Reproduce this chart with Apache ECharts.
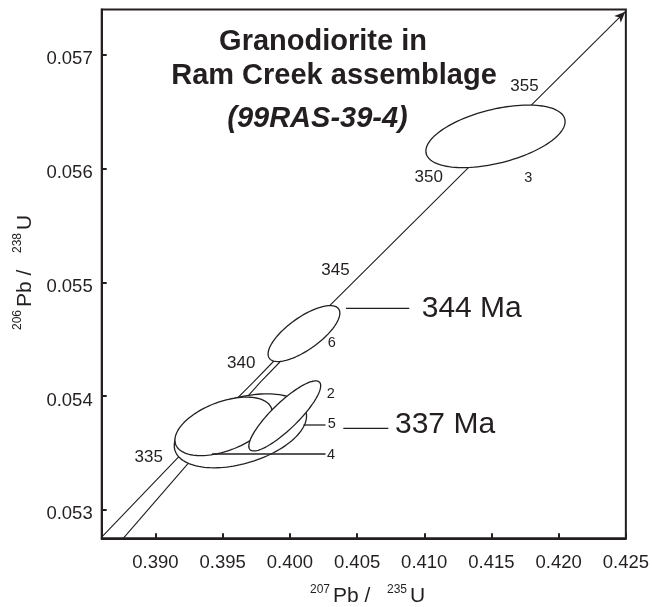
<!DOCTYPE html>
<html><head><meta charset="utf-8">
<script src="https://cdn.jsdelivr.net/npm/echarts@6/dist/echarts.min.js"></script>
<style>html,body{margin:0;padding:0;background:#fff}#c{width:652px;height:607px}</style>
</head><body><div id="c"></div>
<script>
// ---- data ----
const xTicks = [0.390, 0.395, 0.400, 0.405, 0.410, 0.415, 0.420, 0.425];
const yTicks = [0.053, 0.054, 0.055, 0.056, 0.057];
// concordia envelope
const concordiaUpper = [[0.38600, 0.05276], [0.39201, 0.05350], [0.39727, 0.05412], [0.39874, 0.05430], [0.40300, 0.05480], [0.42496, 0.05738]];
const concordiaLower = [[0.38760, 0.05275], [0.39237, 0.05340], [0.39779, 0.05412], [0.39926, 0.05430], [0.40300, 0.05480]];
// error ellipses (drawing order)
const spotLabels = ['3', '6', '5', '4', '2'];
const spotX = [0.41530, 0.40105, 0.39632, 0.39507, 0.39962];
const spotY = [0.056284, 0.054550, 0.053695, 0.053734, 0.053826];
const spotErrX = [0.00518, 0.002670, 0.004921, 0.003621, 0.002674];
const spotErrY = [0.000275, 0.000246, 0.000325, 0.000257, 0.000308];
const spotRho = [0.47, 0.73, 0.40, 0.47, 0.86];
const ageTicks = ['335', '340', '345', '350', '355'];
const modelAges = ['344 Ma', '337 Ma'];
const titleLines = ['Granodiorite in', 'Ram Creek assemblage', '(99RAS-39-4)'];

// ---- layout (pixels) ----
const INK = '#231f20';
const FONT = "'Liberation Sans', Arial, Helvetica, sans-serif";
const agePos = [[148.7, 457.8], [241.3, 363.3], [335.4, 270.7], [428.8, 177.8], [524.4, 86]];
const spotLabelPos = { '3': [528.3, 178.3], '6': [331.7, 343.3], '5': [331.7, 424.3], '4': [331, 455], '2': [330.7, 394.3] };
const spotLeaders = { '5': [303.5, 425, 325.5, 425], '4': [212, 454, 325.5, 454] };
const modelPos = [[421.7, 308.3], [395, 425]];
const modelLeaders = [[346, 308.3, 409.3, 308.3], [343.3, 428.3, 388.3, 428.3]];
const titlePos = [[323, 41.7, 'normal'], [334, 76.3, 'normal'], [317.5, 119, 'italic']];

const chart = echarts.init(document.getElementById('c'), null, { renderer: 'canvas' });

const ellipseData = spotLabels.map((l, i) => [spotX[i], spotY[i], spotErrX[i], spotErrY[i], spotRho[i]]);

const graphics = [];
function txt(x, y, text, size, extra) {
  return {
    type: 'text', x: x, y: y, z: 100,
    style: Object.assign({
      text: text, fontSize: size, fontFamily: FONT, fill: INK,
      align: 'center', verticalAlign: 'middle', textAlign: 'center', textVerticalAlign: 'middle'
    }, extra || {})
  };
}
function seg(p) {
  return { type: 'line', z: 100, shape: { x1: p[0], y1: p[1], x2: p[2], y2: p[3] }, style: { stroke: INK, lineWidth: 1.3 } };
}
titleLines.forEach((t, i) => {
  graphics.push(txt(titlePos[i][0], titlePos[i][1], t, 29, { fontWeight: 'bold', fontStyle: titlePos[i][2] }));
});
ageTicks.forEach((a, i) => graphics.push(txt(agePos[i][0], agePos[i][1], a, 17)));
spotLabels.forEach(l => graphics.push(txt(spotLabelPos[l][0], spotLabelPos[l][1], l, 14.5)));
Object.keys(spotLeaders).forEach(k => graphics.push(seg(spotLeaders[k])));
modelAges.forEach((m, i) => {
  graphics.push(txt(modelPos[i][0], modelPos[i][1], m, 30, { align: 'left', textAlign: 'left' }));
  graphics.push(seg(modelLeaders[i]));
});
function axisTitle(x, y, rot, sup1, sup2) {
  const sup = { align: 'left', textAlign: 'left' };
  return {
    type: 'group', x: x, y: y, rotation: rot, z: 100,
    children: [
      txt(0, -7, sup1, 12, sup), txt(23, 0, 'Pb /', 21, sup),
      txt(77, -7, sup2, 12, sup), txt(100, 0, 'U', 21, sup)
    ]
  };
}
graphics.push(axisTitle(310, 596.5, 0, '207', '235'));
graphics.push(axisTitle(25, 330, Math.PI / 2, '206', '238'));

const axisCommon = {
  type: 'value',
  axisLine: { show: true, lineStyle: { color: INK, width: 2 } },
  splitLine: { show: false },
  scale: true
};

chart.setOption({
  animation: false,
  backgroundColor: '#fff',
  grid: { left: 101.7, right: 19.3, top: 9.4, bottom: 68.7, show: true, borderColor: INK, borderWidth: 2, backgroundColor: 'transparent' },
  xAxis: Object.assign({}, axisCommon, {
    min: 0.386, max: 0.425,
    axisTick: { show: true, inside: true, length: 5, customValues: xTicks, lineStyle: { color: INK, width: 2 } },
    axisLabel: { customValues: xTicks, formatter: v => v.toFixed(3), fontSize: 18.5, fontFamily: FONT, color: INK, margin: 15 }
  }),
  yAxis: Object.assign({}, axisCommon, {
    min: 0.05275, max: 0.0574,
    axisTick: { show: true, inside: true, length: 5, customValues: yTicks, lineStyle: { color: INK, width: 2 } },
    axisLabel: { customValues: yTicks, formatter: v => v.toFixed(3), fontSize: 18.5, fontFamily: FONT, color: INK, margin: 9, verticalAlign: 'top', lineHeight: 9 }
  }),
  graphic: graphics,
  series: [
    {
      type: 'line', data: concordiaLower, symbol: 'none', silent: true, z: 2,
      lineStyle: { color: INK, width: 1.1 }
    },
    {
      type: 'line', silent: true, z: 2, symbol: 'none', showSymbol: true,
      data: concordiaUpper.map((p, i) => i === concordiaUpper.length - 1
        ? { value: p, symbol: 'arrow', symbolSize: [7, 11], symbolRotate: -45.6, itemStyle: { color: INK } }
        : { value: p }),
      lineStyle: { color: INK, width: 1.1 }
    },
    {
      type: 'custom', coordinateSystem: 'cartesian2d', silent: true, z: 3,
      encode: { x: 0, y: 1 },
      data: ellipseData,
      renderItem: function (params, api) {
        const cx = api.value(0), cy = api.value(1), a = api.value(2), b = api.value(3), r = api.value(4);
        const s = Math.sqrt(1 - r * r);
        const pts = [];
        for (let k = 0; k < 120; k++) {
          const t = 2 * Math.PI * k / 120;
          pts.push(api.coord([cx + a * Math.cos(t), cy + b * (r * Math.cos(t) + s * Math.sin(t))]));
        }
        return { type: 'polygon', shape: { points: pts }, style: { fill: '#fff', stroke: INK, lineWidth: 1.3 } };
      }
    }
  ]
});
</script>
</body></html>
